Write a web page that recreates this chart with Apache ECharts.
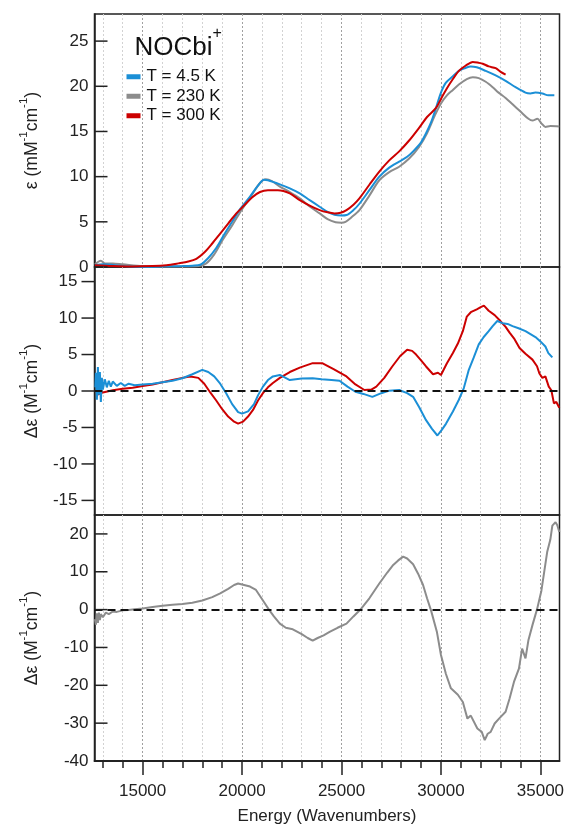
<!DOCTYPE html>
<html><head><meta charset="utf-8">
<script src="https://cdn.jsdelivr.net/npm/echarts@6/dist/echarts.min.js"></script>
<style>html,body{margin:0;padding:0;background:#fff}#c{width:569px;height:828px}</style>
</head><body><div id="c"></div>
<script>
// ---------- axis ranges / tick labels ----------
const energyMin = 12580, energyMax = 35960;
const xMajorTicks = [15000, 20000, 25000, 30000, 35000];
const xMinorTicks = [13000,14000,16000,17000,18000,19000,21000,22000,23000,24000,26000,27000,28000,29000,31000,32000,33000,34000];
const absTicks = [0, 5, 10, 15, 20, 25];
const cdTicks = [-15, -10, -5, 0, 5, 10, 15];
const mcdTicks = [-40, -30, -20, -10, 0, 10, 20];
const seriesNames = ['T = 4.5 K', 'T = 230 K', 'T = 300 K'];

// ---------- top panel: absorption (mM^-1 cm^-1) ----------
const absBlueE = [12600,13000,14000,15000,16000,17000,17500,17900,18300,18700,19100,19500,19900,20400,20800,21100,21300,21900,22400,22900,23400,23900,24300,24650,25000,25250,25600,25900,26400,26900,27400,27900,28300,28600,29000,29250,29500,29750,30000,30250,30600,30900,31200,31500,31800,32250,32750,33250,33750,34250,34500,34750,35100,35400,35700];
const absBlueV = [0.2,0.3,0.1,0.0,0.05,0.1,0.15,0.25,1.0,2.1,3.6,5.0,6.4,7.8,9.0,9.65,9.6,9.15,8.7,8.15,7.4,6.67,6.1,5.78,5.7,5.75,6.3,7.0,8.5,10.0,11.0,11.67,12.2,12.8,13.8,14.8,16.0,17.6,19.3,20.4,21.1,21.7,22.0,22.2,22.1,21.7,21.2,20.6,19.9,19.3,19.2,19.3,19.2,19.0,19.0];
const absGrayE = [12600,12900,13100,13500,14000,15000,16000,17000,17800,18200,18600,19000,19500,20000,20500,20900,21200,21500,21900,22400,22900,23400,23900,24300,24700,25000,25200,25500,25900,26400,26900,27400,27900,28400,28900,29300,29700,30000,30300,30600,30900,31300,31600,31900,32250,32600,32900,33250,33600,34000,34400,34600,34850,35050,35250,35500,35950];
const absGrayV = [0.3,0.7,0.4,0.4,0.3,0.1,0.05,0.05,0.1,0.4,1.4,2.9,4.6,6.4,8.0,9.3,9.7,9.5,8.9,8.3,7.6,6.7,5.93,5.3,4.95,4.9,5.0,5.5,6.3,7.9,9.6,10.5,11.1,12.0,13.3,14.8,16.8,18.1,19.0,19.6,20.2,20.8,21.0,20.9,20.5,19.9,19.3,18.7,18.0,17.2,16.4,16.2,16.4,15.9,15.5,15.6,15.55];
const absRedE = [12600,13500,14500,15500,16200,16800,17300,17700,18100,18500,18900,19300,19700,20100,20500,20900,21300,21800,22400,22900,23400,23900,24300,24650,24950,25250,25600,25900,26400,26900,27400,27900,28400,28900,29300,29750,30000,30250,30600,30900,31250,31600,31900,32100,32400,32750,33000,33250];
const absRedV = [0.2,0.1,0.05,0.1,0.2,0.4,0.6,0.9,1.6,2.6,3.7,4.8,5.9,6.8,7.7,8.3,8.5,8.5,8.15,7.4,6.8,6.3,6.05,5.93,6.0,6.3,6.9,7.6,9.1,10.56,11.8,12.8,14.0,15.4,16.6,17.6,18.6,19.6,20.8,21.7,22.3,22.7,22.6,22.5,22.2,22.0,21.6,21.3];

// ---------- middle panel: difference spectra (M^-1 cm^-1) ----------
const cdBlueE = [12620,12650,12700,12750,12800,12850,12900,12950,13000,13100,13200,13300,13400,13500,13700,13900,14100,14300,14600,15000,15500,16000,16500,17000,17500,18000,18300,18600,18900,19200,19500,19800,20000,20300,20600,20800,21050,21300,21550,21900,22400,23000,23550,24000,24500,24900,25300,25700,26100,26550,27000,27400,27900,28300,28600,28900,29250,29550,29820,30050,30250,30600,30900,31150,31400,31650,31900,32150,32400,32600,32830,33100,33350,33600,33900,34250,34500,34750,35000,35250,35400,35600];
const cdBlueV = [0.5,2.5,-1.2,3.3,-0.5,2.6,-1.5,1.8,0.2,1.6,0.5,1.4,0.6,1.3,0.7,1.1,0.7,1.0,0.8,0.9,1.0,1.2,1.4,1.75,2.3,2.9,2.6,2.0,1.0,-0.3,-1.8,-2.9,-3.1,-2.8,-1.8,-0.6,0.6,1.5,2.0,2.2,1.5,1.7,1.75,1.6,1.5,1.4,0.6,-0.1,-0.4,-0.8,-0.3,0.05,0.14,-0.3,-0.8,-2.2,-4.0,-5.2,-6.1,-5.3,-4.5,-2.8,-1.2,0.4,2.9,4.6,6.4,7.4,8.2,8.9,9.6,9.3,9.2,8.9,8.6,8.2,7.8,7.4,6.8,6.1,5.2,4.6];
const cdRedE = [12750,13000,13500,14000,14500,15000,15500,16000,16500,17000,17400,17800,18100,18400,18700,19000,19300,19600,19800,20050,20300,20550,20800,21050,21300,21550,21900,22400,22900,23550,24050,24600,25250,25700,26150,26500,26750,27150,27550,27950,28300,28550,28750,29000,29250,29600,29850,30000,30300,30600,30850,31100,31300,31500,31800,32000,32160,32400,32700,32950,33250,33450,33700,33950,34250,34600,34830,34950,35100,35250,35420,35550,35680,35800,35950];
const cdRedV = [-0.5,-0.2,0.1,0.3,0.45,0.7,0.9,1.2,1.5,1.8,2.0,1.8,1.0,-0.2,-1.3,-2.5,-3.5,-4.2,-4.47,-4.2,-3.5,-2.6,-1.3,-0.3,0.5,1.1,1.8,2.6,3.2,3.82,3.8,3.0,2.0,0.9,0.14,0.2,0.6,1.8,3.36,4.8,5.66,5.5,5.0,4.2,3.36,2.3,2.5,2.2,3.8,5.2,6.5,8.2,10.2,10.8,11.2,11.5,11.7,11.0,10.4,9.7,8.8,8.0,7.1,5.9,5.1,4.3,3.4,2.4,1.8,2.0,0.6,0.1,-1.7,-1.5,-2.3];

// ---------- bottom panel: difference (M^-1 cm^-1) ----------
const diffE = [12600,12650,12700,12750,12800,12850,12900,13000,13150,13300,13500,13700,14000,14300,14600,15000,15500,16000,16500,17000,17500,18000,18500,18900,19300,19600,19800,20100,20400,20700,20900,21100,21350,21600,21900,22200,22550,23000,23300,23550,23800,24100,24400,24800,25250,25600,26000,26400,26900,27300,27600,27850,28100,28300,28600,28850,29100,29300,29500,29800,30000,30250,30500,30850,31100,31330,31500,31830,32050,32200,32350,32500,32700,32920,33250,33450,33670,33920,34080,34250,34400,34600,34840,35050,35340,35500,35600,35760,35850,35950];
const diffV = [-2.5,-4.0,-1.0,-3.5,-0.8,-2.8,-1.2,-2.0,-0.8,-1.2,-0.5,-0.6,-0.2,-0.1,0.1,0.3,0.7,1.0,1.3,1.5,1.8,2.4,3.3,4.3,5.5,6.5,6.9,6.5,6.1,5.2,3.6,2.0,0.0,-1.8,-3.7,-4.8,-5.2,-6.5,-7.5,-8.2,-7.5,-6.8,-5.9,-4.8,-3.7,-1.8,0.3,3.0,6.9,9.8,11.8,13.0,14.0,13.5,12.0,9.5,6.5,3.0,-0.2,-6.0,-12.0,-17.0,-20.8,-22.5,-24.4,-28.8,-28.0,-31.4,-32.3,-34.5,-32.8,-32.3,-30.1,-28.8,-27.0,-23.5,-19.1,-15.6,-10.3,-12.9,-8.0,-4.1,0.26,5.0,15.2,18.5,22.2,23.1,22.3,20.5];

// ---------- build ----------
const FONT = '"Liberation Sans", Arial, sans-serif';
const INK = '#222';
const C_BLUE = '#1b8fd6', C_GRAY = '#8c8c8c', C_RED = '#cc0000';
const zip = (a, b) => a.map((x, i) => [x, b[i]]);

const grids = [
  { left: 94.5, right: 9.5, top: 14, height: 253 },
  { left: 94.5, right: 9.5, top: 267, height: 248 },
  { left: 94.5, right: 9.5, top: 515, height: 246 }
].map(g => Object.assign(g, { show: true, borderColor: INK, borderWidth: 1.5, containLabel: false }));

function xAxesFor(gi, bottom) {
  const major = {
    type: 'value', gridIndex: gi, position: 'bottom', min: energyMin, max: energyMax,
    axisLine: { show: bottom, onZero: false, lineStyle: { color: INK, width: 1.5 } },
    axisTick: { show: bottom, customValues: xMajorTicks, length: 14, inside: false, lineStyle: { color: INK, width: 1.5 } },
    axisLabel: { show: bottom, customValues: xMajorTicks, margin: 22, fontSize: 17, color: INK, fontFamily: FONT, formatter: v => String(v) },
    splitLine: { show: true, lineStyle: { color: '#a0a0a0', type: [2, 2], width: 1 } },
    name: bottom ? 'Energy (Wavenumbers)' : '', nameLocation: 'middle', nameGap: 47,
    nameTextStyle: { fontSize: 17, color: INK, fontFamily: FONT }
  };
  const minor = {
    type: 'value', gridIndex: gi, position: 'bottom', min: energyMin, max: energyMax,
    axisLine: { show: bottom, onZero: false, lineStyle: { color: INK, width: 1.5 } },
    axisTick: { show: bottom, customValues: xMinorTicks, length: 7, inside: false, lineStyle: { color: INK, width: 1.5 } },
    axisLabel: { show: false },
    splitLine: { show: true, lineStyle: { color: '#d2d2d2', type: [2, 2], width: 1 } }
  };
  return [minor, major];
}
const xAxis = [].concat(xAxesFor(0, false), xAxesFor(1, false), xAxesFor(2, true));

function yRich() {
  return {
    t: { fontSize: 17.5, lineHeight: 30, color: INK, fontFamily: FONT, fontWeight: 'normal' },
    s: { fontSize: 11.5, lineHeight: 11, verticalAlign: 'top', color: INK, fontFamily: FONT, fontWeight: 'normal' }
  };
}
function yAxisFor(gi, min, max, ticks, margin, name) {
  return {
    type: 'value', gridIndex: gi, position: 'left', min, max,
    axisLine: { show: true, onZero: false, lineStyle: { color: INK, width: 1.5 } },
    axisTick: { show: false },
    axisLabel: { show: true, customValues: ticks, margin, fontSize: 17, color: INK, fontFamily: FONT },
    splitLine: { show: false },
    name, nameLocation: 'middle', nameGap: 47,
    nameTextStyle: { rich: yRich() }
  };
}
const yAxis = [
  yAxisFor(0, 0, 28, absTicks, 6, '{t|ε (mM}{s|-1}{t|cm}{s|-1}{t|)}'),
  yAxisFor(1, -17, 17, cdTicks, 17, '{t|Δε (M}{s|-1}{t|cm}{s|-1}{t|)}'),
  yAxisFor(2, -40, 25, mcdTicks, 6, '{t|Δε (M}{s|-1}{t|cm}{s|-1}{t|)}')
];

function zeroLine() {
  return {
    silent: true, symbol: 'none', label: { show: false },
    lineStyle: { color: '#111', type: [8, 5], width: 2 },
    data: [{ yAxis: 0 }]
  };
}
function line(name, color, xi, yi, data, extra) {
  return Object.assign({
    type: 'line', name, xAxisIndex: xi, yAxisIndex: yi, data,
    showSymbol: false, symbol: 'none', clip: true,
    lineStyle: { color, width: 2 }, itemStyle: { color }, emphasis: { disabled: true }
  }, extra || {});
}
// y-axis tick marks drawn through the axis scales (dir +1 = inside, -1 = outside)
function yTickSeries(xi, yi, ticks, dir) {
  return {
    type: 'custom', xAxisIndex: xi, yAxisIndex: yi, silent: true, clip: false, z: 10,
    data: ticks.map(v => [energyMin, v]),
    renderItem: (params, api) => {
      const p = api.coord([api.value(0), api.value(1)]);
      return { type: 'line', shape: { x1: p[0], y1: p[1], x2: p[0] + dir * 13, y2: p[1] },
        style: { stroke: INK, lineWidth: 1.5 } };
    }
  };
}

const series = [
  line(seriesNames[1], C_GRAY, 1, 0, zip(absGrayE, absGrayV), { smooth: 0.3 }),
  line(seriesNames[0], C_BLUE, 1, 0, zip(absBlueE, absBlueV), { smooth: 0.3 }),
  line(seriesNames[2], C_RED, 1, 0, zip(absRedE, absRedV), { smooth: 0.3 }),
  line(seriesNames[2], C_RED, 3, 1, zip(cdRedE, cdRedV), { markLine: zeroLine() }),
  line(seriesNames[0], C_BLUE, 3, 1, zip(cdBlueE, cdBlueV)),
  line(seriesNames[1], C_GRAY, 5, 2, zip(diffE, diffV), { markLine: zeroLine() }),
  yTickSeries(1, 0, absTicks, 1),
  yTickSeries(3, 1, cdTicks, -1),
  yTickSeries(5, 2, mcdTicks, 1)
];

const chart = echarts.init(document.getElementById('c'), null, { renderer: 'canvas' });
chart.setOption({
  animation: false,
  title: {
    text: '{a|NOCbi}{b|+}', left: 134.5, top: 25.5, padding: 0,
    textStyle: { fontWeight: 'normal', rich: {
      a: { fontSize: 26, lineHeight: 44, color: '#111', fontFamily: FONT, fontWeight: 'normal' },
      b: { fontSize: 16, lineHeight: 13, verticalAlign: 'top', color: '#111', fontFamily: FONT, fontWeight: 'normal' }
    } }
  },
  legend: {
    data: seriesNames, orient: 'vertical', left: 126.5, top: 67, padding: 0,
    itemWidth: 14, itemHeight: 5, itemGap: 0, icon: 'rect',
    selectedMode: false,
    textStyle: { fontSize: 17, lineHeight: 19.5, color: '#111', fontFamily: FONT, padding: [0, 0, 0, 1] }
  },
  grid: grids, xAxis, yAxis, series
});
</script></body></html>
